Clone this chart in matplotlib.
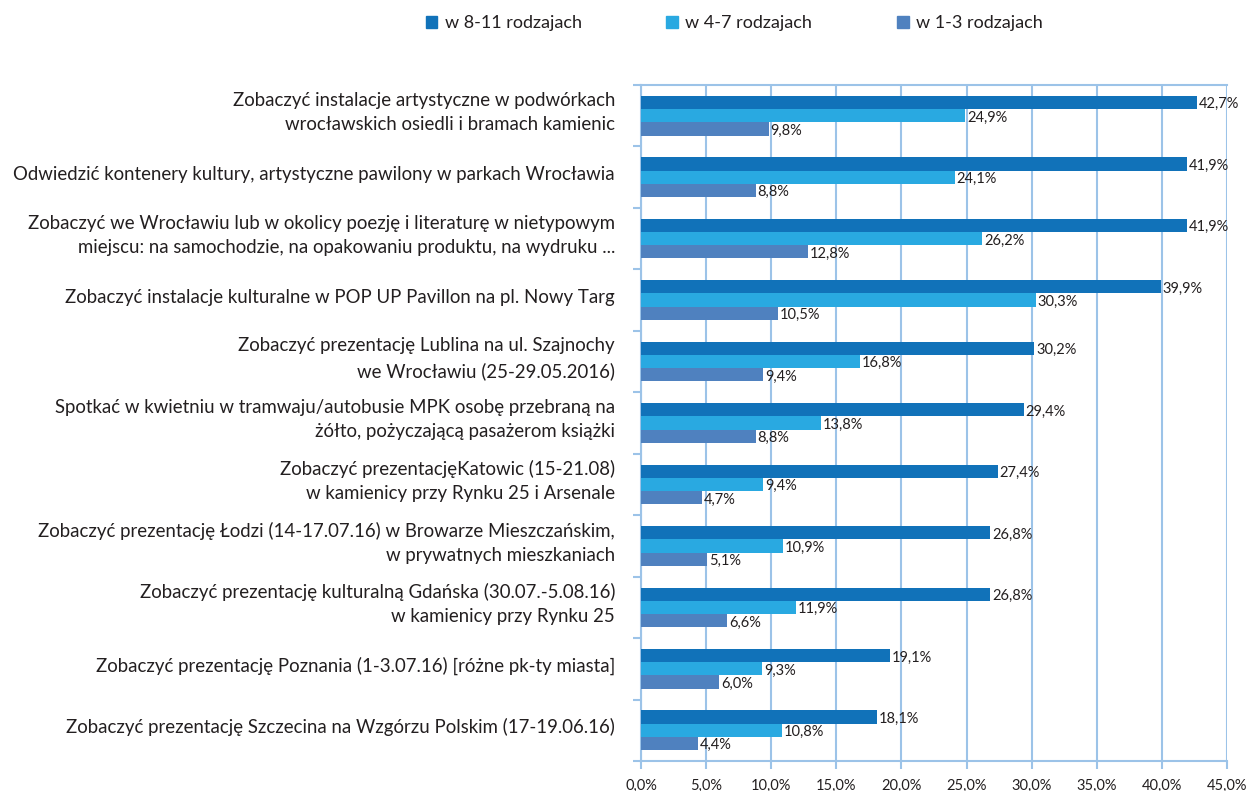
import matplotlib
matplotlib.use("Agg")
import matplotlib.pyplot as plt
import matplotlib.transforms as mtransforms
import numpy as np

categories = [
    "Zobaczyć instalacje artystyczne w podwórkach\nwrocławskich osiedli i bramach kamienic",
    "Odwiedzić kontenery kultury, artystyczne pawilony w parkach Wrocławia",
    "Zobaczyć we Wrocławiu lub w okolicy poezję i literaturę w nietypowym\nmiejscu: na samochodzie, na opakowaniu produktu, na wydruku ...",
    "Zobaczyć instalacje kulturalne w POP UP Pavillon na pl. Nowy Targ",
    "Zobaczyć prezentację Lublina na ul. Szajnochy\nwe Wrocławiu (25-29.05.2016)",
    "Spotkać w kwietniu w tramwaju/autobusie MPK osobę przebraną na\nżółto, pożyczającą pasażerom książki",
    "Zobaczyć prezentacjęKatowic (15-21.08)\nw kamienicy przy Rynku 25 i Arsenale",
    "Zobaczyć prezentację Łodzi (14-17.07.16) w Browarze Mieszczańskim,\nw prywatnych mieszkaniach",
    "Zobaczyć prezentację kulturalną Gdańska (30.07.-5.08.16)\nw kamienicy przy Rynku 25",
    "Zobaczyć prezentację Poznania (1-3.07.16) [różne pk-ty miasta]",
    "Zobaczyć prezentację Szczecina na Wzgórzu Polskim (17-19.06.16)",
]
series_names = ["w 8-11 rodzajach", "w 4-7 rodzajach", "w 1-3 rodzajach"]
s_8_11 = [42.7, 41.9, 41.9, 39.9, 30.2, 29.4, 27.4, 26.8, 26.8, 19.1, 18.1]
s_4_7 = [24.9, 24.1, 26.2, 30.3, 16.8, 13.8, 9.4, 10.9, 11.9, 9.3, 10.8]
s_1_3 = [9.8, 8.8, 12.8, 10.5, 9.4, 8.8, 4.7, 5.1, 6.6, 6.0, 4.4]
x_ticks = [0, 5, 10, 15, 20, 25, 30, 35, 40, 45]

colors = ["#1172b9", "#29a9e1", "#4f81bf"]
grid_c = "#9cc3e8"
text_c = "#231f20"
FONT = "Lato"

fig = plt.figure(figsize=(12.53, 7.91), dpi=100)
ax = fig.add_axes([641/1253, 1-761/791, (1227-641)/1253, (761-85)/791])

n = len(categories)
centers = np.arange(n)
bh = 0.215
offsets = [-bh, 0, bh]
for vals, off, col in zip([s_8_11, s_4_7, s_1_3], offsets, colors):
    ypos = centers + off
    ax.barh(ypos, vals, height=bh, color=col, zorder=3)
    for y, v in zip(ypos, vals):
        ax.text(v + 0.15, y + 0.03, f"{v:.1f}%".replace(".", ","), va="center", ha="left",
                fontsize=10.5, color=text_c, family=FONT, zorder=4)

ax.set_ylim(n - 0.5, -0.5)
ax.set_xlim(0, 45)
ax.set_xticks(x_ticks)
ax.set_xticklabels([f"{t:.1f}%".replace(".", ",") for t in x_ticks], fontsize=10.5, family=FONT, color=text_c)
ax.xaxis.grid(True, color=grid_c, linewidth=1.5, zorder=0)
ax.set_axisbelow(True)

ax.set_yticks(np.arange(n + 1) - 0.5, minor=True)
ax.set_yticks(centers)
ax.set_yticklabels([])
ax.tick_params(axis="y", which="major", length=0)
ax.tick_params(axis="y", which="minor", length=6, color=grid_c, width=1.5)
ax.tick_params(axis="x", length=6, color=grid_c, width=1.5, pad=7)

base = mtransforms.blended_transform_factory(ax.transAxes, ax.transData)
lab_tr = mtransforms.offset_copy(base, fig=fig, x=-26, y=3, units="dots")
for c, lab in zip(centers, categories):
    ax.text(0, c, lab, transform=lab_tr, ha="right", va="center", multialignment="right",
            fontsize=13.4, family=FONT, color=text_c, linespacing=1.5, clip_on=False)

for s in ["left", "bottom", "top"]:
    ax.spines[s].set_color(grid_c)
    ax.spines[s].set_linewidth(1.5)
ax.spines["right"].set_visible(False)

handles = [plt.Rectangle((0, 0), 1, 1, color=c) for c in colors]
fig.legend(handles, series_names, loc="center", bbox_to_anchor=(0.586, 0.971), ncol=3,
           frameon=False, prop={"family": FONT, "size": 13}, handlelength=0.65,
           handleheight=0.65, handletextpad=0.4, columnspacing=4.7, labelcolor=text_c)

fig.savefig("out.png", dpi=100)
